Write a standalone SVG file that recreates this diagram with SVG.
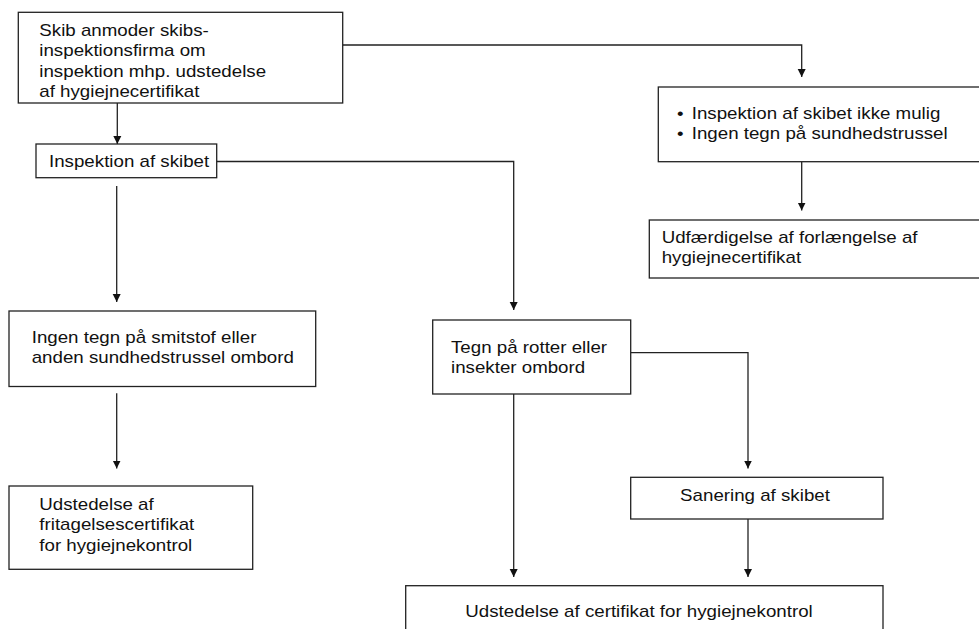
<svg xmlns="http://www.w3.org/2000/svg" width="979" height="629" viewBox="0 0 979 629">
<style>
.box{fill:#fff;stroke:#222;stroke-width:1.3}
.t{font-family:"Liberation Sans",Arial,sans-serif;font-size:16px;fill:#111}
.c{fill:none;stroke:#222;stroke-width:1.3}
</style>
<defs>
<marker id="ah" markerUnits="userSpaceOnUse" markerWidth="9" markerHeight="9" refX="8" refY="4.5" orient="auto">
<path d="M0,0.5 L8,4.5 L0,8.5 z" fill="#111"/>
</marker>
</defs>
<rect width="979" height="629" fill="#fff"/>
<g id="connectors">
<path class="c" d="M342.7,45 H801.7 V77" marker-end="url(#ah)"/>
<path class="c" d="M801.7,161.7 V210.5" marker-end="url(#ah)"/>
<path class="c" d="M117.3,103 V144" marker-end="url(#ah)"/>
<path class="c" d="M216.7,161.5 H513.7 V310" marker-end="url(#ah)"/>
<path class="c" d="M116.7,186 V302" marker-end="url(#ah)"/>
<path class="c" d="M116.7,393.3 V468.5" marker-end="url(#ah)"/>
<path class="c" d="M630.7,352.7 H748 V468.5" marker-end="url(#ah)"/>
<path class="c" d="M513.7,394 V577" marker-end="url(#ah)"/>
<path class="c" d="M748,519 V577" marker-end="url(#ah)"/>
</g>
<g id="n1">
<rect class="box" x="18.3" y="12.3" width="324.4" height="90.7"/>
<text class="t" transform="translate(39.3,36) scale(1.17,1)"><tspan x="0" y="0">Skib anmoder skibs-</tspan><tspan x="0" y="20.5">inspektionsfirma om</tspan><tspan x="0" y="41">inspektion mhp. udstedelse</tspan><tspan x="0" y="61.5">af hygiejnecertifikat</tspan></text>
</g>
<g id="n2">
<rect class="box" x="658.3" y="87" width="340" height="74.7"/>
<text class="t" transform="translate(677,119.3) scale(1.17,1)"><tspan x="0" y="0">•</tspan><tspan x="12.6" y="0">Inspektion af skibet ikke mulig</tspan><tspan x="0" y="20">•</tspan><tspan x="12.6" y="20">Ingen tegn på sundhedstrussel</tspan></text>
</g>
<g id="n3">
<rect class="box" x="649.3" y="220" width="350" height="58"/>
<text class="t" transform="translate(661.7,243.3) scale(1.17,1)"><tspan x="0" y="0">Udfærdigelse af forlængelse af</tspan><tspan x="0" y="20">hygiejnecertifikat</tspan></text>
</g>
<g id="n4">
<rect class="box" x="36" y="144" width="180.7" height="33.7"/>
<text class="t" transform="translate(49,167.3) scale(1.17,1)">Inspektion af skibet</text>
</g>
<g id="n5">
<rect class="box" x="9" y="311" width="306.7" height="75.5"/>
<text class="t" transform="translate(31.7,342.5) scale(1.17,1)"><tspan x="0" y="0">Ingen tegn på smitstof eller</tspan><tspan x="0" y="20.3">anden sundhedstrussel ombord</tspan></text>
</g>
<g id="n6">
<rect class="box" x="9" y="486" width="243.7" height="83.3"/>
<text class="t" transform="translate(39.3,509.5) scale(1.17,1)"><tspan x="0" y="0">Udstedelse af</tspan><tspan x="0" y="20.7">fritagelsescertifikat</tspan><tspan x="0" y="41.4">for hygiejnekontrol</tspan></text>
</g>
<g id="n7">
<rect class="box" x="432.7" y="320" width="198" height="74"/>
<text class="t" transform="translate(451,353.3) scale(1.17,1)"><tspan x="0" y="0">Tegn på rotter eller</tspan><tspan x="0" y="20">insekter ombord</tspan></text>
</g>
<g id="n8">
<rect class="box" x="630.7" y="477.3" width="252.3" height="41.7"/>
<text class="t" text-anchor="middle" transform="translate(755,500.5) scale(1.17,1)">Sanering af skibet</text>
</g>
<g id="n9">
<rect class="box" x="405.7" y="585.7" width="477.3" height="60"/>
<text class="t" text-anchor="middle" transform="translate(639,617) scale(1.17,1)">Udstedelse af certifikat for hygiejnekontrol</text>
</g>
</svg>
